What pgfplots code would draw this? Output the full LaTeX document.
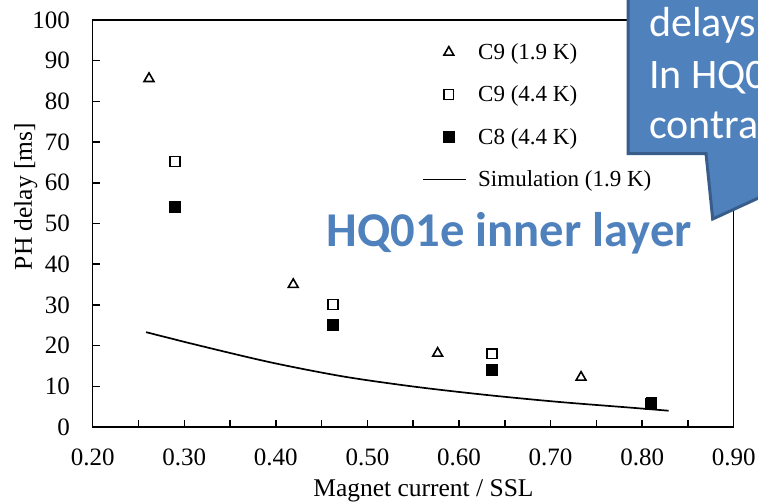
\documentclass[border=0pt]{standalone}
\usepackage{fontspec}
\setmainfont{Liberation Serif}
\newfontfamily\carlito{Carlito}
\usepackage{pgfplots}
\pgfplotsset{compat=1.18}
\definecolor{calloutblue}{RGB}{79,129,189}
\definecolor{calloutedge}{RGB}{56,93,138}
\begin{document}
\begin{tikzpicture}[x=1pt,y=1pt]
\begin{axis}[
  at={(0,0)}, anchor=south west,
  scale only axis, width=641pt, height=407pt,
  xmin=0.2, xmax=0.9, ymin=0, ymax=100,
  xtick={0.2,0.3,0.4,0.5,0.6,0.7,0.8,0.9},
  minor xtick={0.25,0.35,0.45,0.55,0.65,0.75,0.85},
  ytick={0,10,20,30,40,50,60,70,80,90,100},
  tick align=inside, xtick pos=bottom, ytick pos=left,
  major tick length=7pt, minor tick length=7pt,
  tick style={black, line width=1.5pt},
  axis line style={line width=1.5pt},
  /pgf/number format/assume math mode=true,
  ticklabel style={font=\fontsize{25}{25}\selectfont},
  xticklabel style={anchor=base, inner sep=0pt, yshift=-38pt, /pgf/number format/.cd, fixed, fixed zerofill, precision=2},
  yticklabel style={anchor=east, inner sep=0pt, xshift=-22.7pt},
  xlabel={Magnet current / SSL},
  xlabel style={at={(axis description cs:0.516,-0.1708)}, anchor=base, inner sep=0pt, font=\fontsize{25.5}{25.5}\selectfont},
  ylabel={PH delay [ms]},
  ylabel style={at={(axis description cs:-0.0947,0.5663)}, anchor=base, inner sep=0pt, font=\fontsize{25.5}{25.5}\selectfont},
  legend cell align=left,
  legend image code/.code={\draw[mark repeat=2,mark phase=2,#1] plot coordinates {(0pt,0pt) (26pt,0pt) (43pt,0pt)};},
  legend style={at={(0.5137,0.9470)}, anchor=north west, draw=none, fill=none, inner sep=0pt, outer sep=0pt, row sep=20.9pt, font=\fontsize{23}{23}\selectfont, /tikz/every odd column/.append style={column sep=9.5pt}},
]
\addplot[only marks, mark=triangle, mark size=5.7pt, mark options={line width=1.6pt, draw=black, fill=white}] coordinates {
(0.2615,85.6) (0.419,35.0) (0.5767,18.1) (0.7333,12.2)};
\addlegendentry{C9 (1.9 K)}
\addplot[only marks, mark=square, mark size=4.9pt, mark options={line width=1.4pt, draw=black, fill=white}] coordinates {
(0.2899,65.2) (0.4624,30.1) (0.636,18.0) (0.810,6.1)};
\addlegendentry{C9 (4.4 K)}
\addplot[only marks, mark=square*, mark size=5.4pt, mark options={line width=0.5pt, draw=black, fill=black}] coordinates {
(0.2893,54.1) (0.4624,25.1) (0.636,14.1) (0.809,5.8)};
\addlegendentry{C8 (4.4 K)}
\addplot[black, line width=1.7pt, smooth, no marks] coordinates {
(0.2583,23.3) (0.3185,19.9) (0.396,15.8) (0.474,12.4) (0.5516,9.9) (0.629,7.9) (0.707,6.2) (0.785,4.8) (0.829,4.0)};
\addlegendentry{Simulation (1.9 K)}
\end{axis}
\begin{scope}
\clip (-92.7,-71) rectangle (665.3,427);
\filldraw[fill=calloutblue, draw=calloutedge, line width=3pt, line join=miter]
  (535.5,470) -- (535.5,273.5) -- (613.3,273.5) -- (620,208) -- (762.7,273.5) -- (780,273.5) -- (780,470) -- cycle;
\node[anchor=base west, inner sep=0pt, text=white, font=\carlito\fontsize{42}{42}\selectfont] at (556.3,390) {delays};
\node[anchor=base west, inner sep=0pt, text=white, font=\carlito\fontsize{42}{42}\selectfont] at (556.3,338) {In HQ01e};
\node[anchor=base west, inner sep=0pt, text=white, font=\carlito\fontsize{42}{42}\selectfont] at (556.3,288) {contrary};
\end{scope}
\node[anchor=base west, inner sep=0pt, text=calloutblue, font=\carlito\bfseries\fontsize{48.6}{48.6}\selectfont] at (234,180.3) {HQ01e inner layer};
\path (-92.7,-71) rectangle (665.3,427);
\end{tikzpicture}
\end{document}
